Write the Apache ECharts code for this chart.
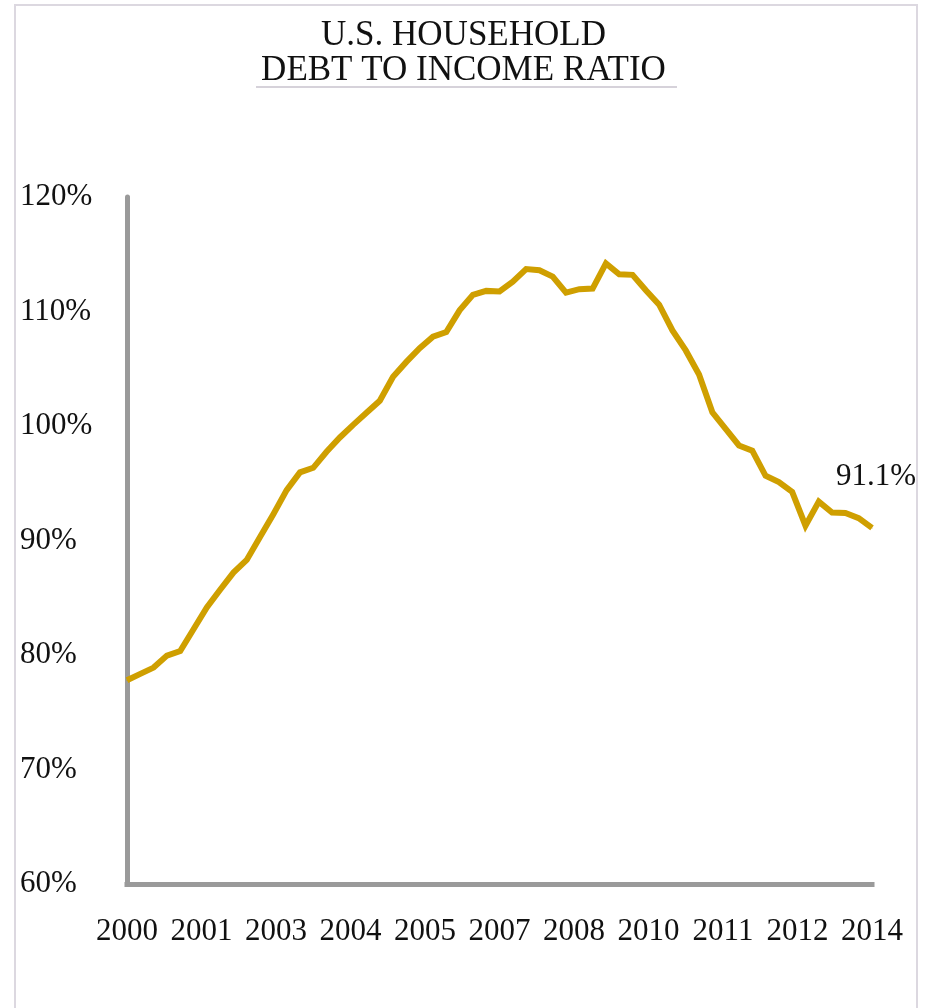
<!DOCTYPE html>
<html>
<head>
<meta charset="utf-8">
<script src="https://cdn.jsdelivr.net/npm/echarts@6/dist/echarts.min.js"></script>
<style>
  html, body { margin: 0; padding: 0; background: #ffffff; }
  #chart { width: 927px; height: 1008px; }
</style>
</head>
<body>
<div id="chart"></div>
<script>
// Quarterly household debt as a share of disposable income, 2000 through 2014 (percent)
const ratioValues = [
  77.8, 78.35, 78.9, 79.95, 80.35, 82.25, 84.15, 85.7, 87.2, 88.3,
  90.3, 92.3, 94.4, 95.95, 96.35, 97.75, 99.0, 100.1, 101.15, 102.2,
  104.3, 105.6, 106.8, 107.8, 108.2, 110.1, 111.45, 111.8, 111.75, 112.6,
  113.7, 113.6, 113.05, 111.65, 111.95, 112.0, 114.2, 113.25, 113.2, 111.85,
  110.6, 108.35, 106.6, 104.5, 101.2, 99.75, 98.3, 97.85, 95.65, 95.1,
  94.25, 91.3, 93.4, 92.45, 92.4, 91.95, 91.1
];

// Year labels spread evenly along the quarter axis
const yearTickLabels = ['2000', '2001', '2003', '2004', '2005', '2007', '2008', '2010', '2011', '2012', '2014'];

// Percent axis range
const yTicks = { min: 60, max: 120, step: 10 };

const lastIndex = ratioValues.length - 1;
const labelStep = lastIndex / (yearTickLabels.length - 1);

const serif = 'Liberation Serif';
const lineColor = '#cf9f00';
const axisGray = '#9a9a9a';

const seriesData = ratioValues.map((v, i) => {
  if (i !== lastIndex) return [i, v];
  return {
    value: [i, v],
    label: {
      show: true,
      position: 'top',
      offset: [4, -30],
      formatter: (p) => p.value[1].toFixed(1) + '%',
      fontFamily: serif,
      fontSize: 31,
      color: '#111111'
    }
  };
});

const chart = echarts.init(document.getElementById('chart'), null, { renderer: 'canvas' });

chart.setOption({
  animation: false,
  backgroundColor: '#ffffff',
  title: {
    text: 'U.S. HOUSEHOLD\nDEBT TO INCOME RATIO',
    left: 'center',
    top: 13,
    textStyle: {
      fontFamily: serif,
      fontSize: 35,
      fontWeight: 'normal',
      lineHeight: 35,
      color: '#111111'
    }
  },
  graphic: [
    {
      type: 'rect',
      z: -1,
      shape: { x: 15, y: 5, width: 902, height: 1010 },
      style: { fill: 'none', stroke: '#dcd8e0', lineWidth: 2 }
    },
    {
      type: 'line',
      shape: { x1: 256, y1: 87, x2: 677, y2: 87 },
      style: { stroke: '#d6d2da', lineWidth: 2 }
    }
  ],
  grid: { left: 127, right: 55, top: 197, bottom: 124, containLabel: false },
  xAxis: {
    type: 'value',
    min: 0,
    max: lastIndex,
    interval: labelStep,
    axisLine: { show: true, onZero: false, lineStyle: { color: axisGray, width: 5, cap: 'square' } },
    axisTick: { show: false },
    splitLine: { show: false },
    axisLabel: {
      margin: 32,
      fontFamily: serif,
      fontSize: 31,
      color: '#111111',
      formatter: (v) => yearTickLabels[Math.round(v / labelStep)] || ''
    }
  },
  yAxis: {
    type: 'value',
    min: yTicks.min,
    max: yTicks.max,
    interval: yTicks.step,
    axisLine: { show: true, onZero: false, lineStyle: { color: axisGray, width: 5 } },
    axisTick: { show: false },
    splitLine: { show: false },
    axisLabel: {
      align: 'left',
      margin: 107,
      padding: [6, 0, 0, 0],
      fontFamily: serif,
      fontSize: 31,
      color: '#111111',
      formatter: (v) => v + '%'
    }
  },
  series: [
    {
      type: 'line',
      data: seriesData,
      showSymbol: true,
      symbol: 'circle',
      symbolSize: 1,
      itemStyle: { color: lineColor },
      lineStyle: { color: lineColor, width: 6, join: 'miter' },
      emphasis: { disabled: true }
    }
  ]
});
</script>
</body>
</html>
